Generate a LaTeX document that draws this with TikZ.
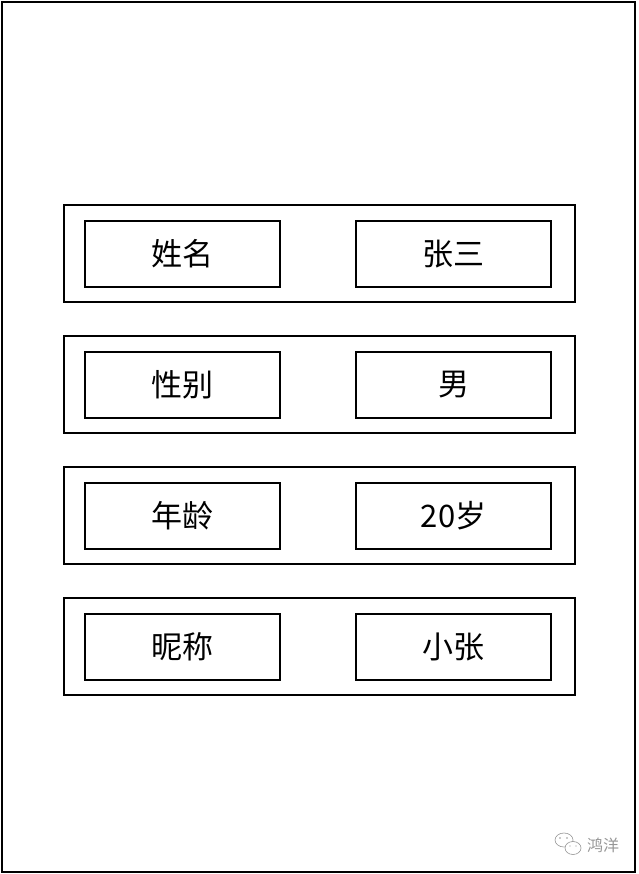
\documentclass[tikz,border=0pt]{standalone}
\usepackage{fontspec}
\setmainfont{Noto Sans CJK SC}
\usetikzlibrary{positioning}
\definecolor{markgray}{RGB}{150,150,150}

\begin{document}
\begin{tikzpicture}[x=1pt,y=-1pt,
    frame/.style={draw,line width=2.2pt},
    rowbox/.style={frame,minimum width=511pt,minimum height=97pt,inner sep=0pt},
    cellbox/.style={frame,minimum width=195pt,minimum height=66pt,inner sep=0pt,
        font=\fontsize{31}{37}\selectfont}]
    \useasboundingbox (0,0) rectangle (638,874);

    % Page frame
    \draw[line width=2.2pt] (2,2) rectangle (635,872);

    % Row: name
    \node[rowbox] (namerow) at (319.5,253.5) {};
    \node[cellbox] (namekey) at (182.5,254) {姓名};
    \node[cellbox] (nameval) at (453.5,254) {张三};

    % Row: gender
    \node[rowbox] (sexrow) at (319.5,384.5) {};
    \node[cellbox] (sexkey) at (182.5,385) {性别};
    \node[cellbox] (sexval) at (453.5,385) {男};

    % Row: age
    \node[rowbox] (agerow) at (319.5,515.5) {};
    \node[cellbox] (agekey) at (182.5,516) {年龄};
    \node[cellbox] (ageval) at (453.5,516) {20岁};

    % Row: nickname
    \node[rowbox] (nickrow) at (319.5,646.5) {};
    \node[cellbox] (nickkey) at (182.5,647) {昵称};
    \node[cellbox] (nickval) at (453.5,647) {小张};

    % Watermark
    \draw[markgray,line width=0.6pt] (564,840) ellipse [x radius=9pt,y radius=7pt];
    \draw[markgray,line width=0.6pt,fill=white] (573,848) ellipse [x radius=8pt,y radius=6.5pt];
    \fill[markgray] (560,838) circle (0.8pt) (567,838) circle (0.8pt)
        (570,846) circle (0.7pt) (576,846) circle (0.7pt);
    \node[markgray,font=\fontsize{16}{19}\selectfont] (mark) at (603,845) {鸿洋};
\end{tikzpicture}
\end{document}
